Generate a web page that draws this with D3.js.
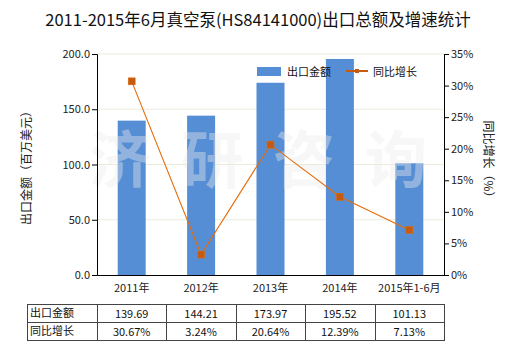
<!DOCTYPE html>
<html><head><meta charset="utf-8">
<script src="https://cdn.jsdelivr.net/npm/d3@7"></script>
<style>body{margin:0;background:#fff}svg{display:block}text{font-family:"Noto Sans CJK SC","Noto Sans",sans-serif}</style>
</head><body>
<svg id="c" width="520" height="350"></svg>
<script>
const categories = ["2011年","2012年","2013年","2014年","2015年1-6月"];
const exportValues = [139.69,144.21,173.97,195.52,101.13];
const growthValues = [30.67,3.24,20.64,12.39,7.13];
const leftTicks = [0,50,100,150,200];
const rightTicks = [0,5,10,15,20,25,30,35];
const title = "2011-2015年6月真空泵(HS84141000)出口总额及增速统计";
const seriesNames = ["出口金额","同比增长"];

const svg = d3.select("#c");
const L=97, R=444, T=54, B=275;
const x = d3.scaleBand().domain(categories).range([L,R]);
const yL = d3.scaleLinear().domain([0,200]).range([B,T]);
const yR = d3.scaleLinear().domain([0,35]).range([B,T]);
const barColor="#558ed5", lineColor="#e46c0a";

svg.append("text").attr("x",258).attr("y",26).attr("text-anchor","middle")
  .attr("font-size",16.5).attr("fill","#111").text(title);

// grid
svg.append("g").selectAll("line").data(leftTicks.slice(1)).join("line")
  .attr("x1",L).attr("x2",R).attr("y1",d=>yL(d)).attr("y2",d=>yL(d))
  .attr("stroke","#ebebdc").attr("stroke-width",1);

// bars
svg.append("g").selectAll("rect").data(exportValues).join("rect")
  .attr("x",(d,i)=>x(categories[i])+x.bandwidth()/2-14).attr("width",28)
  .attr("y",d=>yL(d)).attr("height",d=>B-yL(d)).attr("fill",barColor);

// watermark
const wm = ["济","研","咨","询"];
svg.append("g").selectAll("text").data(wm).join("text")
  .attr("x",(d,i)=>120+i*92).attr("y",183).attr("text-anchor","middle")
  .attr("font-size",62).attr("font-weight","bold").attr("fill","#ececec").attr("opacity",0.4)
  .text(d=>d);

// line
const line = d3.line().x((d,i)=>x(categories[i])+x.bandwidth()/2).y(d=>yR(d));
svg.append("path").datum(growthValues).attr("d",line).attr("fill","none")
  .attr("stroke",lineColor).attr("stroke-width",1.1);
svg.append("g").selectAll("rect").data(growthValues).join("rect")
  .attr("x",(d,i)=>x(categories[i])+x.bandwidth()/2-3.5).attr("y",d=>yR(d)-3.5)
  .attr("width",7).attr("height",7).attr("fill","#c55a11").attr("stroke","#e46c0a").attr("stroke-width",0.5);

// axes
const fmtL = d3.format(".1f");
const gl = svg.append("g").attr("transform",`translate(${L},0)`)
  .call(d3.axisLeft(yL).tickValues(leftTicks).tickFormat(fmtL).tickSize(5).tickPadding(2));
const gr = svg.append("g").attr("transform",`translate(${R},0)`)
  .call(d3.axisRight(yR).tickValues(rightTicks).tickFormat(d=>d+"%").tickSize(5).tickPadding(2));
const gb = svg.append("g").attr("transform",`translate(0,${B})`)
  .call(d3.axisBottom(x).tickSize(0).tickPadding(9));
[gl,gr,gb].forEach(g=>{
  g.select(".domain").attr("stroke","#000");
  g.selectAll(".tick line").attr("stroke","#000");
  g.selectAll("text").attr("font-size",11).attr("fill","#222")
   .attr("font-family",'"Noto Sans CJK SC","Noto Sans",sans-serif');
});
gb.selectAll(".tick line").remove();

svg.append("text").attr("transform","translate(31,165) rotate(-90)").attr("text-anchor","middle")
  .attr("font-size",12).attr("fill","#222").text("出口金额（百万美元）");
svg.append("text").attr("transform","translate(484,162) rotate(90)").attr("text-anchor","middle")
  .attr("font-size",12).attr("fill","#222").text("同比增长（%）");

// legend
svg.append("rect").attr("x",257).attr("y",67).attr("width",24).attr("height",9).attr("fill",barColor);
svg.append("text").attr("x",287).attr("y",76).attr("font-size",11).attr("fill","#111").text(seriesNames[0]);
svg.append("line").attr("x1",346).attr("x2",368).attr("y1",71).attr("y2",71).attr("stroke","#c55a11").attr("stroke-width",2);
svg.append("rect").attr("x",355).attr("y",69).attr("width",4).attr("height",4).attr("fill","#c55a11");
svg.append("text").attr("x",373).attr("y",76).attr("font-size",11).attr("fill","#111").text(seriesNames[1]);

// table
const tT=304, rh=18, tL=27;
const tg = svg.append("g");
tg.append("rect").attr("x",tL+0.5).attr("y",tT+0.5).attr("width",R-tL).attr("height",rh*2)
  .attr("fill","none").attr("stroke","#444");
tg.append("line").attr("x1",tL).attr("x2",R).attr("y1",tT+rh+0.5).attr("y2",tT+rh+0.5).attr("stroke","#444");
tg.selectAll("line.v").data(categories).join("line").attr("class","v")
  .attr("x1",d=>Math.round(x(d))+0.5).attr("x2",d=>Math.round(x(d))+0.5).attr("y1",tT).attr("y2",tT+rh*2).attr("stroke","#444");
seriesNames.forEach((n,r)=>{
  tg.append("text").attr("x",tL+3).attr("y",tT+rh*r+13).attr("font-size",11).attr("fill","#111").text(n);
});
tg.selectAll("text.v1").data(exportValues).join("text").attr("class","v1")
  .attr("x",(d,i)=>x(categories[i])+x.bandwidth()/2).attr("y",tT+14).attr("text-anchor","middle")
  .attr("font-size",11).attr("fill","#111").text(d=>d.toFixed(2));
tg.selectAll("text.v2").data(growthValues).join("text").attr("class","v2")
  .attr("x",(d,i)=>x(categories[i])+x.bandwidth()/2).attr("y",tT+rh+14).attr("text-anchor","middle")
  .attr("font-size",11).attr("fill","#111").text(d=>d.toFixed(2)+"%");
</script>
</body></html>
